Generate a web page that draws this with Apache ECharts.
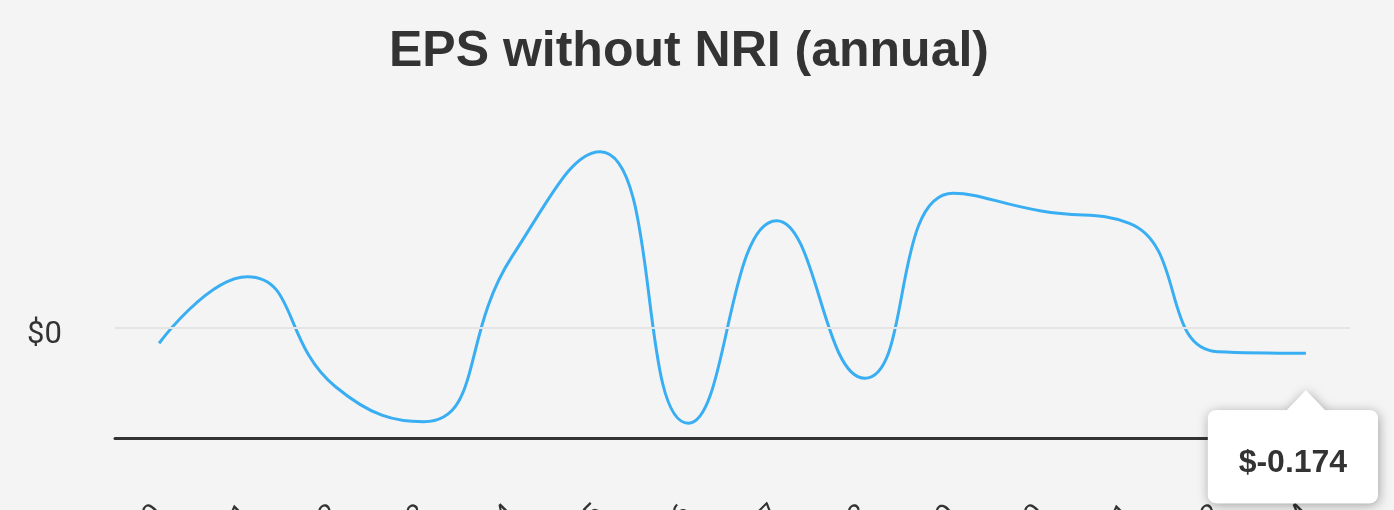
<!DOCTYPE html>
<html>
<head>
<meta charset="utf-8">
<script src="https://cdn.jsdelivr.net/npm/echarts@6/dist/echarts.min.js"></script>
<style>
html,body{margin:0;padding:0;background:#f4f4f4;}
#c{width:1394px;height:510px;}
</style>
</head>
<body>
<div id="c"></div>
<script>
const categories = ["Dec10","Dec11","Dec12","Dec13","Dec14","Dec15","Dec16","Dec17","Dec18","Dec19","Dec20","Dec21","Dec22","TTM"];
const epsValues = [-0.107, 0.345, -0.402, -0.640, 0.481, 1.193, -0.650, 0.725, -0.345, 0.911, 0.791, 0.707, -0.164, -0.174];
const yTicks = { min: -0.75, max: 1.5, interval: 0.75 };
const titleText = "EPS without NRI (annual)";

const chart = echarts.init(document.getElementById('c'), null, {renderer:'canvas'});
const option = {
  backgroundColor: '#f4f4f4',
  animation: false,
  title: {
    text: titleText, left: 384, top: 22,
    textStyle: {fontFamily: 'Liberation Sans, Arial, sans-serif', fontWeight: 'bold', fontSize: 50, color: '#333333'}
  },
  grid: {left: 115, right: 44, top: 106.5, bottom: 72, containLabel: false, outerBoundsMode: 'none'},
  xAxis: {
    type: 'category', data: categories, boundaryGap: true,
    axisLine: {onZero: false, lineStyle: {color: '#333333', width: 3}},
    axisTick: {show: false},
    axisLabel: {interval: 0, rotate: 45, margin: 72, fontSize: 28, color: '#333333', fontFamily: 'Roboto, sans-serif'}
  },
  yAxis: {
    type: 'value', min: yTicks.min, max: yTicks.max, interval: yTicks.interval,
    axisLine: {show: false}, axisTick: {show: false}, splitLine: {show: false},
    axisLabel: {
      align: 'left', margin: 88, color: '#333333',
      formatter: v => (Math.abs(v) < 1e-9 ? '{z|$0}' : ''),
      rich: {z: {fontSize: 31, color: '#333333', fontFamily: 'Roboto, sans-serif', padding: [16, 0, 0, 0]}}
    }
  },
  series: [
    {
      type: 'line', data: epsValues, z: 1, silent: true, showSymbol: false,
      lineStyle: {opacity: 0},
      markLine: {
        silent: true, symbol: 'none', label: {show: false},
        lineStyle: {color: '#e4e4e4', width: 2, type: 'solid'},
        data: [{yAxis: 0}]
      }
    },
    {
      type: 'line', data: epsValues, z: 3, smooth: 0.5, showSymbol: false,
      lineStyle: {color: '#3aaef2', width: 3}
    }
  ]
};
chart.setOption(option);

// tooltip-like callout on last point, positioned from data
const lastIdx = epsValues.length - 1;
const p = chart.convertToPixel({seriesIndex: 1}, [lastIdx, epsValues[lastIdx]]);
const bx = p[0] - 98, by = p[1] + 57, bw = 170, bh = 93;
const ax = p[0], ay = p[1] + 37;
const arrowPts = [[ax - 20, by + 1], [ax, ay], [ax + 20, by + 1]];
const shadow = {shadowBlur: 12, shadowColor: 'rgba(0,0,0,0.35)', shadowOffsetX: 1, shadowOffsetY: 2};
chart.setOption({
  graphic: [
    {type: 'rect', z: 100, shape: {x: bx, y: by, width: bw, height: bh, r: 8},
     style: Object.assign({fill: '#ffffff'}, shadow)},
    {type: 'polygon', z: 100, shape: {points: arrowPts},
     style: Object.assign({fill: '#ffffff'}, shadow)},
    {type: 'rect', z: 101, shape: {x: bx, y: by, width: bw, height: bh, r: 8},
     style: {fill: '#ffffff'}},
    {type: 'polygon', z: 101, shape: {points: arrowPts}, style: {fill: '#ffffff'}},
    {type: 'text', z: 102, x: bx + bw/2, y: by + bh/2 + 7,
     style: {text: '$' + epsValues[lastIdx].toFixed(3), fill: '#333333', font: 'bold 32px "Liberation Sans", Arial, sans-serif',
             align: 'center', verticalAlign: 'middle'}}
  ]
});
</script>
</body>
</html>
